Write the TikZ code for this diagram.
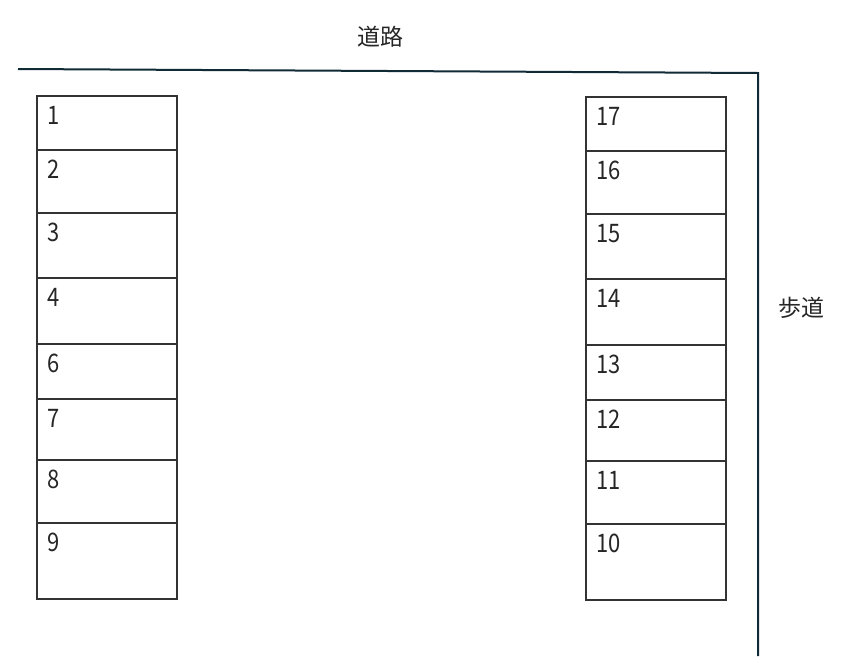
\documentclass[tikz,border=0pt]{standalone}
\usepackage{fontspec}
\setmainfont{Noto Sans CJK JP}
\newfontfamily\digitfont[FakeStretch=0.86]{Noto Sans CJK JP}
\begin{document}
\begin{tikzpicture}[x=1pt,y=-1pt,
  slot/.style={draw=black!80,line width=1.5pt,rectangle,inner sep=0pt,outer sep=0pt,minimum width=140pt,anchor=north west},
  num/.style={anchor=base west,inner sep=0pt,font=\digitfont\fontsize{25.5}{25.5}\selectfont,text=black!85},
  jp/.style={inner sep=0pt,font=\fontsize{23}{23}\selectfont,text=black!85},
  road/.style={line width=2pt,line join=miter}]
\useasboundingbox (0,0) rectangle (846,670);
% road and sidewalk
\coordinate (rs) at (18,69);
\coordinate (rc) at (758,73);
\coordinate (re) at (758,656);
\draw[road,draw={rgb,255:red,16;green,42;blue,54}] (rs) -- (rc) -- (re);
\node[jp] (road) at (380,37) {道路};
\node[jp] (walk) at (801,308) {歩道};
% left column
\foreach \n/\t/\b in {1/96/150,2/150/213,3/213/278,4/278/344,6/344/399,7/399/460,8/460/523,9/523/599}{
  \node[slot,minimum height={\b-\t}] (l\n) at (37,\t) {};
  \node[num] (tl\n) at ([xshift=10pt,yshift=-28.5pt]l\n.north west) {\n};
}
% right column
\foreach \n/\t/\b in {17/97/151,16/151/214,15/214/279,14/279/345,13/345/400,12/400/461,11/461/524,10/524/600}{
  \node[slot,minimum height={\b-\t}] (r\n) at (586,\t) {};
  \node[num] (tr\n) at ([xshift=10pt,yshift=-28.5pt]r\n.north west) {\n};
}
\end{tikzpicture}
\end{document}
